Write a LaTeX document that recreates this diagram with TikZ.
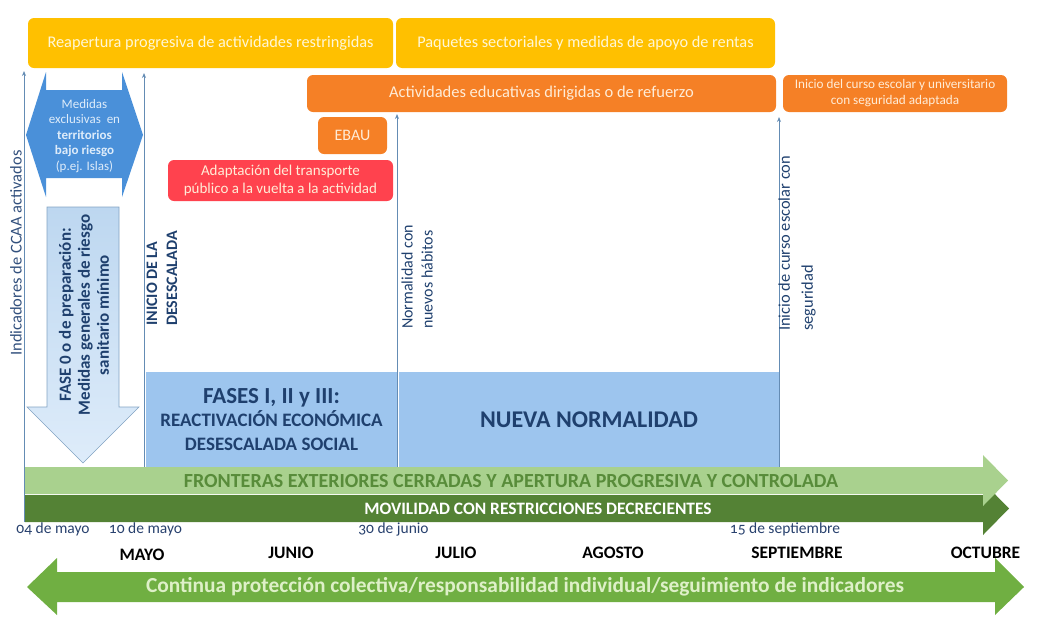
\documentclass[tikz,border=0pt]{standalone}
\usepackage{fontspec}
\setmainfont{Carlito}
\newfontfamily\datefont[Numbers=OldStyle]{Carlito}
\usetikzlibrary{arrows.meta}
\definecolor{cyellow}{RGB}{255,192,0}
\definecolor{corange}{RGB}{245,128,38}
\definecolor{cred}{RGB}{255,66,78}
\definecolor{cmblue}{RGB}{74,144,217}
\definecolor{clblue}{RGB}{189,215,240}
\definecolor{cllblue}{RGB}{222,236,250}
\definecolor{cblock}{RGB}{157,197,238}
\definecolor{clgreen}{RGB}{169,209,142}
\definecolor{cdgreen}{RGB}{84,130,53}
\definecolor{cmgreen}{RGB}{112,175,66}
\definecolor{cline}{RGB}{100,140,180}
\definecolor{cnavy}{RGB}{31,64,110}
\definecolor{cslate}{RGB}{50,80,125}
\definecolor{cdate}{RGB}{40,65,110}
\definecolor{ctxtY}{RGB}{255,247,215}
\definecolor{ctxtO}{RGB}{255,236,215}
\definecolor{ctxtG}{RGB}{88,140,58}
\definecolor{ctxtB}{RGB}{222,240,200}
\newcommand{\myfs}[2]{\fontsize{#1}{#2}\selectfont}
\begin{document}
\begin{tikzpicture}[x=1pt,y=-1pt,
  box/.style={rounded corners=6pt, inner sep=0pt, align=center},
  vline/.style={draw=cline, line width=1pt, -{Stealth[length=5pt,width=4pt]}},
  vlab/.style={rotate=90, inner sep=0pt, align=left, text=cslate, font=\myfs{16}{20}},
  datelab/.style={inner sep=0pt, text=cdate, font=\datefont\myfs{15.5}{18}},
  monthlab/.style={inner sep=0pt, font=\bfseries\myfs{17.5}{20}}]
\useasboundingbox (0,0) rectangle (1043,635);

% top boxes
\node[box, fill=cyellow, minimum width=365pt, minimum height=50pt, text=ctxtY, font=\myfs{16.3}{19}] (reap) at (210.5,43) {Reapertura progresiva de actividades restringidas};
\node[box, fill=cyellow, minimum width=379pt, minimum height=50pt, text=ctxtY, font=\myfs{16.3}{19}] (paq) at (585.5,43) {Paquetes sectoriales y medidas de apoyo de rentas};
\node[box, fill=corange, minimum width=469pt, minimum height=37pt, text=ctxtO, font=\myfs{16.5}{19}] (act) at (541.5,93.5) {Actividades educativas dirigidas o de refuerzo};
\node[box, fill=corange, minimum width=224pt, minimum height=37pt, text=ctxtO, font=\myfs{13.2}{16}] (curso) at (895,93.5) {Inicio del curso escolar y universitario\\con seguridad adaptada};
\node[box, fill=corange, minimum width=69pt, minimum height=37pt, text=ctxtO, font=\myfs{16}{19}] (ebau) at (352.5,135.5) {EBAU};
\node[box, fill=cred, minimum width=225pt, minimum height=41pt, text=ctxtO, font=\myfs{15}{17.5}] (transp) at (280.5,180.5) {Adaptación del transporte\\público a la vuelta a la actividad};

% blue blocks
\node[fill=cblock, inner sep=0pt, minimum width=251pt, minimum height=95pt, align=center, text=cnavy, font=\bfseries\myfs{19}{23.5}] (fases) at (271.5,419.5) {{\myfs{23}{23.5}FASES I, II y III:}\\REACTIVACIÓN ECONÓMICA\\DESESCALADA SOCIAL};
\node[fill=cblock, inner sep=0pt, minimum width=380pt, minimum height=95pt, text=cnavy, font=\bfseries\myfs{24}{28}] (nueva) at (589,419.5) {NUEVA NORMALIDAD};

% vertical lines
\coordinate (l1b) at (24,522); \coordinate (l1t) at (24,71);
\coordinate (l2b) at (144,467); \coordinate (l2t) at (144,73);
\coordinate (l3b) at (397,467); \coordinate (l3t) at (397,114);
\coordinate (l4b) at (779,467); \coordinate (l4t) at (779,117);
\draw[vline] (l1b) -- (l1t);
\draw[vline] (l2b) -- (l2t);
\draw[vline] (l3b) -- (l3t);
\draw[vline] (l4b) -- (l4t);

% medidas double arrow
\fill[cmblue] (26,135) -- (46,72) -- (46,90) -- (122,90) -- (122,72) -- (143,135) -- (122,197) -- (122,178) -- (46,178) -- (46,197) -- cycle;
\node[inner sep=0pt, align=center, text=cllblue, font=\myfs{13}{15.5}] (medidas) at (84.5,136) {Medidas\\exclusivas\ \ en\\\textbf{territorios}\\\textbf{bajo riesgo}\\(p.ej. Islas)};

% fase 0 down arrow
\shade[top color=clblue, bottom color=cllblue, draw=cline!80, line width=0.6pt] (47,207) -- (119,207) -- (119,407) -- (139,407) -- (83,463) -- (27,407) -- (47,407) -- cycle;
\node[rotate=90, inner sep=0pt, align=center, text=cnavy, font=\bfseries\myfs{17}{19}] (fase0) at (84,315) {FASE 0 o de preparación:\\Medidas generales de riesgo\\sanitario mínimo};

% vertical labels
\node[vlab, align=center, font=\myfs{16.5}{20}] (indic) at (16,253) {Indicadores de CCAA activados};
\node[vlab, anchor=west, font=\bfseries\myfs{16}{20}, text=cnavy] (inicio) at (162,326) {INICIO DE LA\\DESESCALADA};
\node[vlab, anchor=west, text=cnavy] (normal) at (417,329) {Normalidad con\\nuevos hábitos};
\node[vlab, anchor=west, font=\myfs{16.4}{23}, text=cnavy] (inicur) at (797,331) {Inicio de curso escolar con\\seguridad};

% green arrows
\fill[cdgreen] (25,495) -- (983,495) -- (983,482) -- (1009,508.5) -- (983,535) -- (983,522) -- (25,522) -- cycle;
\fill[clgreen] (25,467) -- (983,467) -- (983,455) -- (1008,480.5) -- (983,506) -- (983,494) -- (25,494) -- cycle;
\node[inner sep=0pt, text=ctxtG, font=\bfseries\myfs{20}{22}] (front) at (511,481) {FRONTERAS EXTERIORES CERRADAS Y APERTURA PROGRESIVA Y CONTROLADA};
\node[inner sep=0pt, text=white, font=\bfseries\myfs{17.4}{20}] (movil) at (538,508.5) {MOVILIDAD CON RESTRICCIONES DECRECIENTES};

% bottom double arrow
\fill[cmgreen] (27,587) -- (57,558) -- (57,572) -- (995,572) -- (995,558) -- (1024,587) -- (995,615) -- (995,602) -- (57,602) -- (57,615) -- cycle;
\node[inner sep=0pt, text=ctxtB, font=\bfseries\myfs{21.4}{24}] (contin) at (525,587) {Continua protección colectiva/responsabilidad individual/seguimiento de indicadores};

% dates
\node[datelab] (d1) at (53,529) {04 de mayo};
\node[datelab] (d2) at (145.5,529) {10 de mayo};
\node[datelab] (d3) at (393.5,529) {30 de junio};
\node[datelab] (d4) at (785,529) {15 de septiembre};

% months
\node[monthlab] (m1) at (142,555) {MAYO};
\node[monthlab] (m2) at (291,553) {JUNIO};
\node[monthlab] (m3) at (456,553) {JULIO};
\node[monthlab] (m4) at (613,553) {AGOSTO};
\node[monthlab] (m5) at (797,553) {SEPTIEMBRE};
\node[monthlab] (m6) at (985.5,553) {OCTUBRE};
\end{tikzpicture}
\end{document}
